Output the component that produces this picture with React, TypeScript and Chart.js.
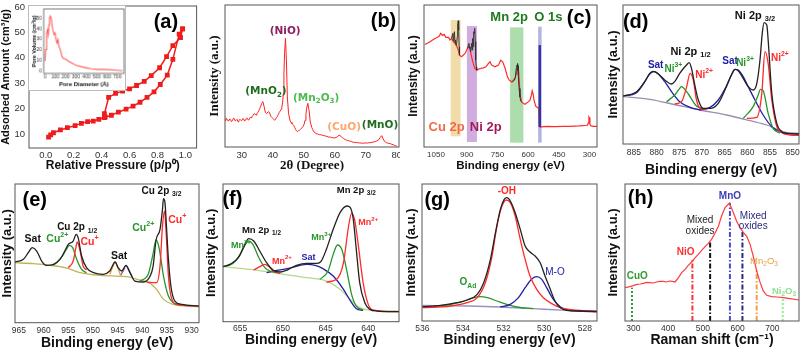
import { useEffect, useRef } from "react";
import { Chart, registerables } from "chart.js";

Chart.register(...registerables);

const SANS = '"Liberation Sans", Arial, Helvetica, sans-serif';
const SERIF = '"Liberation Serif", "Times New Roman", serif';
const DJV = '"DejaVu Sans", Verdana, sans-serif';

// ---------- (a) N2 isotherm ----------
const adsP = [0.02, 0.035, 0.055, 0.105, 0.155, 0.21, 0.255, 0.3, 0.34, 0.38, 0.42, 0.47, 0.52, 0.575, 0.625, 0.675, 0.725, 0.775, 0.82, 0.87, 0.91, 0.955, 0.98];
const adsV = [8.8, 9.7, 10.5, 11.6, 12.5, 13.3, 14.2, 14.9, 15.1, 15.8, 16.5, 17.4, 18.6, 19.8, 21.0, 22.5, 24.4, 26.6, 29.5, 33.2, 39.4, 49.3, 51.4];
const desP = [0.98, 0.965, 0.91, 0.865, 0.815, 0.755, 0.705, 0.65, 0.6, 0.55, 0.5, 0.45, 0.42, 0.425];
const desV = [51.4, 48.0, 44.8, 40.5, 36.1, 33.0, 30.7, 29.1, 27.8, 26.9, 26.0, 24.4, 18.0, 16.7];
const aXTicks = [0, 0.2, 0.4, 0.6, 0.8, 1.0];
const aYTicks = [10, 20, 30, 40, 50, 60];
// inset: pore size distribution
const poreD = [0, 7, 16, 25, 32, 38, 44, 51, 60, 70, 79, 88, 98, 107, 117, 126, 135, 148, 164, 180, 195, 227, 258, 305, 369, 448, 511, 574, 668, 750];
const poreV = [9.4, 20.3, 35.9, 39, 34.4, 43.6, 50, 52, 50, 42, 37.5, 34.4, 35.9, 29.7, 26.6, 29.7, 23.4, 20.3, 14, 11.6, 11.6, 9.4, 7.8, 5.3, 3.7, 2.2, 1.6, 1.6, 1.0, 0.3];
const poreXTicks = [0, 100, 200, 300, 400, 500, 600, 700];
const poreYTicks = [0, 10, 20, 30, 40, 50];

// ---------- (b) XRD ----------
const xrdAngle = [24.6, 24.9, 25.2, 25.5, 25.8, 26.1, 26.4, 26.7, 27.0, 27.3, 27.6, 27.9, 28.2, 28.5, 28.8, 29.1, 29.4, 29.7, 30.0, 30.3, 30.6, 30.9, 31.2, 31.5, 31.8, 32.1, 32.4, 32.7, 33.0, 33.3, 33.6, 33.9, 34.2, 34.6, 34.9, 35.2, 35.5, 35.8, 36.1, 36.4, 36.8, 37.2, 37.6, 38.0, 38.5, 38.9, 39.4, 39.7, 40.0, 40.3, 40.6, 40.9, 41.2, 41.5, 41.8, 42.1, 42.4, 42.7, 42.9, 43.2, 43.4, 43.6, 43.8, 44.1, 44.4, 44.7, 45.1, 45.6, 45.9, 46.2, 46.5, 46.8, 47.1, 47.4, 47.7, 48.0, 48.3, 48.6, 48.9, 49.2, 49.5, 49.8, 50.1, 50.4, 50.7, 50.9, 51.3, 51.7, 52.1, 52.6, 52.9, 53.2, 53.6, 54.0, 54.5, 55.0, 55.5, 56.0, 56.5, 57.0, 57.5, 58.0, 58.5, 59.0, 59.5, 60.0, 60.4, 60.8, 61.4, 62.0, 62.4, 62.8, 63.4, 64.0, 64.5, 65.0, 65.5, 66.0, 66.5, 67.0, 67.5, 68.0, 68.5, 69.0, 69.5, 70.0, 70.5, 71.0, 71.5, 72.0, 72.5, 73.0, 73.5, 74.0, 74.6, 75.1, 75.6, 76.0, 76.4, 76.9, 77.4, 77.9, 78.4, 78.8, 79.2, 79.6, 80.0];
const xrdInt = [80, 86, 84, 79, 78, 84, 82, 76, 79, 86, 85, 78, 80, 83, 76, 79, 83, 80, 79, 85, 84, 78, 80, 86, 86, 81, 82, 89, 88, 91, 94, 99, 100, 96, 101, 104, 109, 115, 122, 130, 136, 122, 104, 100, 106, 104, 92, 89, 86, 83, 80, 84, 88, 92, 98, 104, 108, 113, 118, 135, 160, 220, 280, 326, 260, 150, 100, 78, 74, 70, 67, 64, 58, 52, 48, 46, 49, 50, 53, 56, 58, 62, 68, 80, 98, 115, 131, 110, 75, 58, 52, 46, 43, 40, 39, 37, 37, 35, 34, 33, 32, 30, 30, 28, 28, 27, 29, 30, 36, 32, 28, 26, 22, 20, 19, 17, 16, 14, 14, 13, 13, 12, 12, 11, 12, 12, 12, 13, 13, 14, 15, 16, 18, 20, 28, 34, 24, 18, 14, 12, 11, 10, 8, 7, 5, 4, 2];
const bXTicks = [30, 40, 50, 60, 70, 80];

// ---------- (c) XPS survey ----------
const svE = [1104, 1079, 1063, 1047, 1034, 1027, 1018, 1010, 1002, 988, 982, 974, 965, 957, 949, 941, 936, 925, 908, 900, 892, 884, 876, 868, 860, 851, 835, 819, 806, 794, 786, 778, 762, 745, 734, 724, 712, 701, 692, 680, 664, 656, 651, 646, 640, 632, 623, 615, 607, 599, 591, 584, 580, 576, 571, 563, 558, 553, 548, 545, 542, 534, 510, 470, 430, 400, 350, 310, 306, 303, 301, 298, 293, 280, 264];
const svI = [307, 315, 322, 327, 332, 340, 334, 337, 328, 328, 320, 325, 315, 310, 302, 290, 275, 270, 280, 290, 300, 295, 270, 250, 235, 230, 235, 237, 240, 250, 255, 245, 240, 245, 260, 255, 235, 210, 200, 195, 205, 225, 240, 225, 160, 135, 130, 128, 132, 135, 140, 155, 168, 160, 140, 122, 120, 118, 115, 62, 60, 60, 62, 61, 62, 62, 63, 65, 72, 90, 88, 68, 63, 62, 62];
const cuHrE = [974, 970, 968, 966, 963, 960, 957, 955, 952, 949, 946, 944, 941, 939, 937, 935];
const cuHrI = [325, 335, 340, 318, 335, 345, 312, 320, 305, 310, 330, 370, 378, 350, 300, 275];
const niHrE = [895, 892, 889, 887, 884, 881, 878, 876, 873, 871, 868, 866, 863, 861, 858, 856, 853, 851];
const niHrI = [295, 305, 310, 300, 295, 285, 300, 310, 290, 325, 300, 345, 340, 355, 315, 260, 240, 230];
const mnHrE = [676, 667, 662, 658, 655, 654, 652, 651, 649, 648, 644, 640, 636, 632];
const mnHrI = [195, 200, 210, 235, 245, 240, 230, 250, 243, 215, 175, 150, 138, 135];
const o1sE = [543, 543];
const o1sI = [60, 305];
const bandFrom = [978, 899, 688, 551];
const bandTo = [930, 850, 623, 534];
const bandLow = [32, 15, 13, 13];
const bandHigh = [380, 362, 358, 360];
const cXTicks = [1050, 900, 750, 600, 450, 300];

// ---------- (d) Ni 2p ----------
const niEnvE = [887.5, 884.4, 882.6, 881.5, 880.7, 879.6, 878.2, 876.7, 876.0, 874.9, 873.4, 872.8, 872.3, 871.5, 870.8, 869.7, 868.2, 866.4, 864.6, 863.5, 862.7, 862.0, 860.9, 859.8, 858.7, 857.9, 857.2, 856.7, 856.3, 855.7, 855.4, 854.6, 853.5, 852.4, 851.3, 848.6];
const niEnvI = [144, 157, 187, 212, 218, 210, 192, 180, 187, 212, 237, 244, 227, 172, 132, 107, 107, 122, 172, 207, 224, 220, 197, 172, 162, 182, 252, 332, 364, 357, 312, 152, 62, 37, 32, 30];
const niSat1E = [887.5, 884.4, 882.6, 881.5, 880.6, 879.6, 878.2, 876.7, 874.9, 872.6, 870.4];
const niSat1I = [144, 154, 187, 210, 217, 210, 187, 157, 127, 110, 102];
const niSat2E = [870.4, 868.2, 866.4, 864.6, 863.5, 862.7, 862.0, 860.9, 859.8, 858.3, 856.5, 854.6, 852.8, 851.3, 848.6];
const niSat2I = [102, 110, 132, 174, 207, 224, 222, 202, 172, 132, 87, 52, 37, 32, 30];
const ni3aE = [877.8, 876.0, 874.9, 874.5, 874.1, 873.0, 871.2, 869.7];
const ni3aI = [127, 147, 167, 172, 169, 150, 114, 107];
const ni3bE = [860.9, 858.7, 857.6, 857.1, 856.5, 855.4, 854.3, 852.8];
const ni3bI = [77, 112, 147, 164, 160, 92, 47, 32];
const ni2aE = [876.0, 874.5, 873.4, 872.6, 871.9, 871.2, 870.4, 869.0];
const ni2aI = [120, 127, 170, 212, 192, 132, 107, 104];
const ni2bE = [860.1, 857.9, 856.8, 856.1, 855.4, 854.6, 853.5, 852.4, 850.6, 848.6];
const ni2bI = [77, 80, 152, 277, 242, 132, 52, 34, 27, 26];
const niBgE = [887.5, 881.5, 875.6, 870.4, 864.6, 859.4, 855.7, 852.8, 851.3, 848.6];
const niBgI = [142, 134, 117, 102, 87, 70, 57, 40, 34, 32];
const dXTicks = [885, 880, 875, 870, 865, 860, 855, 850];

// ---------- (e) Cu 2p ----------
const cuEnvE = [965.8, 964.1, 963.1, 962.3, 961.4, 960.4, 959.4, 958.0, 956.7, 955.7, 955.0, 954.0, 953.4, 953.0, 952.3, 951.3, 949.9, 947.9, 946.6, 945.5, 944.9, 944.2, 943.3, 942.5, 941.5, 939.8, 938.4, 937.8, 937.2, 936.4, 935.9, 935.7, 935.4, 935.1, 934.7, 934.2, 933.4, 932.0, 928.5];
const cuEnvI = [182, 190, 210, 225, 215, 185, 172, 175, 190, 215, 235, 245, 265, 255, 200, 165, 150, 145, 155, 182, 165, 155, 172, 150, 125, 122, 140, 170, 248, 280, 340, 372, 360, 290, 190, 110, 65, 55, 50];
const cu2aE = [958.0, 956.4, 955.3, 954.8, 954.1, 953.3, 952.3, 951.3];
const cu2aI = [172, 195, 222, 232, 225, 190, 160, 150];
const cu2bE = [940.5, 938.8, 937.9, 937.2, 936.6, 935.7, 934.7, 933.7, 932.0];
const cu2bI = [125, 145, 200, 248, 225, 140, 80, 60, 52];
const cu1aE = [955.0, 954.0, 953.4, 953.2, 952.6, 952.0, 951.3];
const cu1aI = [165, 185, 230, 242, 215, 170, 158];
const cu1bE = [939.1, 937.1, 936.4, 935.9, 935.5, 935.2, 934.7, 934.1, 933.0, 928.5];
const cu1bI = [122, 120, 170, 290, 335, 280, 140, 75, 55, 50];
const cuSatAE = [946.6, 945.9, 945.5, 945.1, 944.4];
const cuSatAI = [145, 170, 182, 170, 142];
const cuSatBE = [944.4, 943.7, 943.3, 942.8, 942.0];
const cuSatBI = [142, 160, 172, 160, 138];
const cuBgE = [965.8, 962.1, 958.7, 955.3, 952.6, 948.6, 943.2, 940.5, 938.4, 937.1, 935.7, 933.7, 931.0, 928.5];
const cuBgI = [180, 177, 172, 164, 150, 142, 138, 128, 118, 100, 70, 55, 50, 48];
const eXTicks = [965, 960, 955, 950, 945, 940, 935, 930];

// ---------- (f) Mn 2p ----------
const mnEnvE = [657.0, 656.2, 655.2, 654.6, 654.0, 653.4, 652.7, 651.9, 651.1, 650.3, 649.5, 648.4, 647.2, 646.0, 645.5, 644.9, 644.1, 643.3, 642.5, 642.1, 641.75, 641.4, 641.0, 640.4, 639.8, 639.0, 636.4];
const mnEnvI = [165, 172, 192, 222, 249, 242, 212, 177, 154, 149, 155, 169, 175, 175, 182, 217, 277, 327, 347, 342, 307, 217, 117, 57, 37, 32, 30];
const mn3aE = [657.0, 655.8, 655.0, 654.4, 654.0, 653.5, 652.9, 652.1, 651.5, 650.7];
const mn3aI = [165, 175, 202, 232, 242, 232, 197, 162, 152, 147];
const mn3bE = [645.65, 644.7, 644.1, 643.6, 643.1, 642.5, 641.95, 641.4, 640.6];
const mn3bI = [127, 152, 202, 230, 217, 152, 82, 47, 35];
const mn2aE = [653.4, 652.7, 652.1, 651.7, 651.1, 650.3];
const mn2aI = [155, 165, 172, 167, 152, 144];
const mn2bE = [644.9, 643.7, 642.9, 642.3, 641.95, 641.6, 641.2, 640.6, 640.0, 639.4, 636.4];
const mn2bI = [119, 127, 177, 287, 325, 307, 237, 117, 52, 35, 30];
const mnSatE = [651.9, 650.7, 649.5, 648.0, 647.2, 646.2, 645.3, 644.1, 642.9, 641.95, 641.4, 640.6];
const mnSatI = [147, 154, 159, 169, 172, 169, 159, 137, 97, 57, 39, 34];
const mnBgE = [657.0, 653.8, 649.9, 647.2, 644.9, 643.3, 642.1, 641.0, 639.4, 636.4];
const mnBgI = [165, 157, 142, 132, 122, 97, 67, 42, 34, 32];
const fXTicks = [655, 650, 645, 640];

// ---------- (g) O 1s ----------
const oEnvE = [536.0, 535.1, 534.3, 533.8, 533.3, 532.98, 532.65, 532.4, 532.16, 531.97, 531.84, 531.67, 531.43, 531.18, 530.94, 530.7, 530.45, 530.2, 529.96, 529.7, 529.47, 529.2, 528.9, 528.24, 527.4];
const oEnvI = [43, 47, 55, 63, 80, 115, 185, 265, 335, 365, 370, 360, 325, 275, 225, 207, 195, 175, 135, 95, 60, 40, 32, 30, 28];
const ohE = [536.0, 534.6, 533.8, 533.3, 532.9, 532.57, 532.33, 532.08, 531.87, 531.67, 531.43, 531.18, 530.94, 530.7, 530.37, 530.04, 529.63, 529.2, 528.57, 527.4];
const ohI = [40, 45, 55, 70, 115, 195, 285, 345, 363, 355, 315, 245, 185, 135, 95, 70, 52, 40, 33, 30];
const oAdE = [535.43, 534.6, 533.96, 533.47, 533.14, 532.8, 532.33, 531.84, 531.35, 530.53];
const oAdI = [45, 50, 60, 70, 73, 70, 60, 50, 42, 37];
const moE = [532.16, 531.67, 531.27, 530.94, 530.6, 530.37, 530.12, 529.88, 529.55, 529.2, 528.73, 527.4];
const moI = [42, 50, 70, 100, 127, 133, 125, 100, 65, 42, 32, 28];
const oBgE = [536.0, 533.8, 532.16, 530.53, 528.9, 527.4];
const oBgI = [47, 45, 42, 37, 32, 28];
const gXTicks = [536, 534, 532, 530, 528];

// ---------- (h) Raman ----------
const ramanShift = [276, 290, 300, 310, 320, 329, 338, 348, 357, 367, 376, 386, 395, 405, 412, 420, 430, 439, 449, 458, 468, 478, 487, 501, 516, 525, 535, 545, 554, 564, 576, 580, 588, 597, 607, 617, 626, 636, 645, 655, 665, 674, 684, 698, 713, 732, 751, 777];
const ramanInt = [100, 103, 106, 110, 111, 113, 116, 115, 114, 117, 119, 119, 117, 120, 119, 117, 130, 145, 155, 167, 177, 190, 200, 217, 233, 245, 263, 285, 315, 340, 353, 345, 325, 300, 280, 265, 255, 230, 195, 150, 115, 90, 77, 73, 72, 70, 67, 63];
const ramanLinePos = [296, 470, 521, 578, 614, 655, 730];
const ramanLineTop = [100, 185, 240, 355, 270, 153, 70];
const hXTicks = [300, 400, 500, 600, 700];

type Series = { x: number[]; y: number[]; color: string; width?: number; dash?: number[]; marker?: boolean; smooth?: boolean };
type Note = { t: string; x: number; y: number; c: string; s: number; w?: string; f?: string };
type Band = { from: number; to: number; lo: number; hi: number; color: string };
type Panel = {
  x0: number; y0: number; w: number; h: number;
  l: number; t: number; r: number; b: number;
  xMin: number; xMax: number; yMin: number; yMax: number; reverse?: boolean;
  xTicks: number[]; yTicks?: number[]; fmt?: (v: number) => string;
  tickSize: number; xTickY: number; yTickR?: number;
  xTitle: string; yTitle: string; xTitleSize: number; yTitleSize: number; titleFamily?: string;
  xTitleY: number; yTitleX: number;
  series: Series[]; notes: Note[]; bands?: Band[]; frame: string; bg?: string;
};

const S = (x: number[], y: number[], color: string, extra: Partial<Series> = {}): Series => ({ x, y, color, ...extra });

function parseRich(str: string) {
  const out: { t: string; m: number }[] = [];
  const re = /([_^])\{([^}]*)\}/g;
  let last = 0;
  let mm: RegExpExecArray | null;
  while ((mm = re.exec(str))) {
    if (mm.index > last) out.push({ t: str.slice(last, mm.index), m: 0 });
    out.push({ t: mm[2], m: mm[1] === "_" ? 1 : 2 });
    last = re.lastIndex;
  }
  if (last < str.length) out.push({ t: str.slice(last), m: 0 });
  return out;
}

function drawRich(ctx: CanvasRenderingContext2D, n: Note, px: number, py: number) {
  const segs = parseRich(n.t);
  const fam = n.f || SANS;
  const wt = n.w || "bold";
  const fontFor = (m: number) => `${wt} ${m ? n.s * 0.68 : n.s}px ${fam}`;
  let total = 0;
  const widths = segs.map((sg) => {
    ctx.font = fontFor(sg.m);
    const ww = ctx.measureText(sg.t).width;
    total += ww;
    return ww;
  });
  let x = px - total / 2;
  ctx.fillStyle = n.c;
  ctx.textBaseline = "middle";
  ctx.textAlign = "left";
  segs.forEach((sg, i) => {
    ctx.font = fontFor(sg.m);
    const dy = sg.m === 1 ? n.s * 0.3 : sg.m === 2 ? -n.s * 0.38 : 0;
    ctx.fillText(sg.t, x, py + dy);
    x += widths[i];
  });
}

function makeChart(cv: HTMLCanvasElement, p: Panel) {
  const fam = p.titleFamily || SANS;
  const xAxisH = p.y0 + p.h - p.b;
  const yAxisW = p.l - p.x0;
  const xTitlePad = p.y0 + p.h - p.xTitleY - (p.xTitleSize * 1.2) / 2;
  const yTitlePad = p.yTitleX - p.x0 - (p.yTitleSize * 1.2) / 2;
  const xTickPad = p.xTickY - p.b - (p.tickSize * 1.2) / 2;
  const deco = {
    id: "deco",
    beforeDraw(chart: any) {
      if (!p.bg) return;
      const c = chart.ctx;
      c.save();
      c.fillStyle = p.bg;
      c.fillRect(0, 0, chart.width, chart.height);
      c.restore();
    },
    beforeDatasetsDraw(chart: any) {
      if (!p.bands) return;
      const c = chart.ctx;
      const xs = chart.scales.x;
      const ys = chart.scales.y;
      c.save();
      p.bands.forEach((bd) => {
        const a = xs.getPixelForValue(bd.from);
        const z = xs.getPixelForValue(bd.to);
        const top = ys.getPixelForValue(bd.hi);
        const bot = ys.getPixelForValue(bd.lo);
        c.fillStyle = bd.color;
        c.fillRect(Math.min(a, z), top, Math.abs(z - a), bot - top);
      });
      c.restore();
    },
    afterDatasetsDraw(chart: any) {
      const c = chart.ctx;
      const ca = chart.chartArea;
      c.save();
      c.strokeStyle = p.frame;
      c.lineWidth = 1;
      c.strokeRect(ca.left, ca.top, ca.right - ca.left, ca.bottom - ca.top);
      const xs = chart.scales.x;
      const ys = chart.scales.y;
      p.notes.forEach((n) => drawRich(c, n, xs.getPixelForValue(n.x), ys.getPixelForValue(n.y)));
      c.restore();
    },
  };
  return new Chart(cv, {
    type: "line",
    data: {
      datasets: p.series.map((s) => ({
        data: s.x.map((v, i) => ({ x: v, y: s.y[i] })),
        borderColor: s.color,
        backgroundColor: s.color,
        borderWidth: s.width ?? 1.3,
        borderDash: s.dash || [],
        pointRadius: s.marker ? 3.4 : 0,
        pointHoverRadius: 0,
        pointStyle: "rect",
        pointBorderWidth: 0,
        tension: 0,
        cubicInterpolationMode: s.smooth ? "monotone" : "default",
        fill: false,
      })),
    },
    options: {
      responsive: false,
      animation: false,
      devicePixelRatio: 1,
      events: [],
      layout: { padding: { left: 0, top: p.t - p.y0, right: p.x0 + p.w - p.r, bottom: 0 } },
      plugins: { legend: { display: false }, tooltip: { enabled: false }, title: { display: false } },
      scales: {
        x: {
          type: "linear",
          min: p.xMin,
          max: p.xMax,
          reverse: !!p.reverse,
          grid: { display: false, drawTicks: false, tickLength: 0 },
          border: { display: false },
          ticks: {
            font: { size: p.tickSize, family: SANS },
            color: "#333",
            padding: xTickPad,
            maxRotation: 0,
            autoSkip: false,
            callback: (v: any) => (p.fmt ? p.fmt(+v) : String(v)),
          },
          title: {
            display: true,
            text: p.xTitle,
            color: "#111",
            font: { size: p.xTitleSize, weight: "bold", family: fam },
            padding: { top: 0, bottom: xTitlePad },
          },
          afterBuildTicks: (sc: any) => {
            sc.ticks = p.xTicks.map((v) => ({ value: v }));
          },
          afterFit: (sc: any) => {
            sc.height = xAxisH;
            sc.paddingLeft = 0;
            sc.paddingRight = 0;
          },
        },
        y: {
          type: "linear",
          min: p.yMin,
          max: p.yMax,
          grid: { display: false, drawTicks: false, tickLength: 0 },
          border: { display: false },
          ticks: {
            display: !!p.yTicks,
            font: { size: p.tickSize, family: SANS },
            color: "#333",
            padding: p.yTickR !== undefined ? p.l - p.yTickR : 0,
            autoSkip: false,
          },
          title: {
            display: true,
            text: p.yTitle,
            color: "#111",
            font: { size: p.yTitleSize, weight: "bold", family: fam },
            padding: { top: yTitlePad, bottom: 0 },
          },
          afterBuildTicks: (sc: any) => {
            if (p.yTicks) sc.ticks = p.yTicks.map((v) => ({ value: v }));
          },
          afterFit: (sc: any) => {
            sc.width = yAxisW;
            sc.paddingTop = 0;
            sc.paddingBottom = 0;
          },
        },
      },
    } as any,
    plugins: [deco as any],
  });
}

const RED = "#ff2a2a";
const GREEN = "#27962b";
const BLUE = "#2020a6";
const BLACK = "#222";
const ramanLineColors = ["#2e9e2e", "#ff3030", "#111", "#4a4ad0", "#2a2a80", "#f0a040", "#90ee90"];

const panels: Panel[] = [
  {
    x0: -6, y0: 0, w: 206, h: 182, l: 29, t: 6, r: 199, b: 148,
    xMin: -0.12, xMax: 1.08, yMin: 4.5, yMax: 60.4,
    xTicks: aXTicks, yTicks: aYTicks, fmt: (v) => v.toFixed(1),
    tickSize: 9.5, xTickY: 155, yTickR: 25,
    xTitle: "Relative Pressure (p/p⁰)", yTitle: "Adsorbed Amount (cm³/g)", xTitleSize: 12, yTitleSize: 11,
    xTitleY: 166, yTitleX: 6,
    series: [
      S(adsP, adsV, "#f01c1c", { marker: true, width: 1.5 }),
      S(desP, desV, "#f01c1c", { marker: true, width: 1.5 }),
    ],
    notes: [{ t: "(a)", x: 0.86, y: 53.8, c: "#000", s: 20 }],
    frame: "#555",
  },
  {
    x0: 194, y0: 0, w: 206, h: 182, l: 225, t: 5, r: 399, b: 147,
    xMin: 24.6, xMax: 80.7, yMin: 0, yMax: 426,
    xTicks: bXTicks, tickSize: 9.5, xTickY: 155,
    xTitle: "2θ (Degree)", yTitle: "Intensity (a.u.)", xTitleSize: 13, yTitleSize: 13, titleFamily: SERIF,
    xTitleY: 166, yTitleX: 215,
    series: [S(xrdAngle, xrdInt, "#ff2020", { width: 1 })],
    notes: [
      { t: "(b)", x: 75.7, y: 376, c: "#000", s: 20 },
      { t: "(NiO)", x: 44.0, y: 346, c: "#8e2060", s: 10.5, f: DJV },
      { t: "(MnO_{2})", x: 37.8, y: 166, c: "#1f6e1f", s: 10.5, f: DJV },
      { t: "(Mn_{2}O_{3})", x: 54.0, y: 146, c: "#4dbb4d", s: 10.5, f: DJV },
      { t: "(CuO)", x: 63.0, y: 59, c: "#ffa66e", s: 10.5, f: DJV },
      { t: "(MnO)", x: 74.6, y: 66, c: "#1f6e1f", s: 10.5, f: DJV },
    ],
    frame: "#555",
  },
  {
    x0: 394, y0: 0, w: 206, h: 182, l: 424, t: 5, r: 597, b: 147,
    xMin: 263.5, xMax: 1108.6, yMin: 0, yMax: 425, reverse: true,
    xTicks: cXTicks, tickSize: 8, xTickY: 155,
    xTitle: "Binding energy (eV)", yTitle: "Intensity (a.u.)", xTitleSize: 11.5, yTitleSize: 12,
    xTitleY: 166, yTitleX: 414,
    bands: bandFrom.map((f, i) => ({
      from: f, to: bandTo[i], lo: bandLow[i], hi: bandHigh[i],
      color: ["rgba(232,196,110,0.6)", "rgba(178,116,200,0.6)", "rgba(118,196,118,0.6)", "rgba(138,138,214,0.65)"][i],
    })),
    series: [
      S(cuHrE, cuHrI, "#333", { width: 1 }),
      S(niHrE, niHrI, "#333", { width: 1 }),
      S(mnHrE, mnHrI, "#333", { width: 1 }),
      S(o1sE, o1sI, "#3535a0", { width: 2.5 }),
      S(svE, svI, "#ff2a2a", { width: 1.2 }),
    ],
    notes: [
      { t: "Mn 2p", x: 693, y: 388, c: "#1e7a1e", s: 13 },
      { t: "O 1s", x: 501, y: 388, c: "#1e7a1e", s: 13 },
      { t: "(c)", x: 351, y: 385, c: "#000", s: 20 },
      { t: "Cu 2p", x: 998, y: 60, c: "#f06a4a", s: 13 },
      { t: "Ni 2p", x: 807, y: 60, c: "#a21c5c", s: 13 },
    ],
    frame: "#555",
  },
  {
    x0: 594, y0: 0, w: 206, h: 182, l: 623, t: 5, r: 799, b: 144,
    xMin: 848.6, xMax: 887.4, yMin: 0, yMax: 417, reverse: true,
    xTicks: dXTicks, tickSize: 8.5, xTickY: 153,
    xTitle: "Binding energy (eV)", yTitle: "Intensity (a.u.)", xTitleSize: 14, yTitleSize: 13,
    xTitleY: 170, yTitleX: 613,
    series: [
      S(niEnvE, niEnvI, BLACK, { smooth: true }),
      S(ni2aE, ni2aI, RED, { smooth: true }),
      S(ni2bE, ni2bI, RED, { smooth: true }),
      S(ni3aE, ni3aI, GREEN, { smooth: true }),
      S(ni3bE, ni3bI, GREEN, { smooth: true }),
      S(niSat1E, niSat1I, BLUE, { smooth: true }),
      S(niSat2E, niSat2I, BLUE, { smooth: true }),
      S(niBgE, niBgI, "#9a8fb0", { smooth: true }),
    ],
    notes: [
      { t: "(d)", x: 884.6, y: 365, c: "#000", s: 20 },
      { t: "Ni 2p _{3/2}", x: 858.3, y: 384, c: "#111", s: 11 },
      { t: "Ni 2p _{1/2}", x: 872.5, y: 277, c: "#111", s: 11 },
      { t: "Sat", x: 880.2, y: 237, c: BLUE, s: 10 },
      { t: "Ni^{3+}", x: 876.3, y: 224, c: GREEN, s: 10 },
      { t: "Ni^{2+}", x: 869.5, y: 207, c: RED, s: 10 },
      { t: "Sat", x: 863.8, y: 247, c: BLUE, s: 10 },
      { t: "Ni^{3+}", x: 860.5, y: 242, c: GREEN, s: 10 },
      { t: "Ni^{2+}", x: 852.8, y: 257, c: RED, s: 10 },
    ],
    frame: "#555",
  },
  {
    x0: -6, y0: 176, w: 206, h: 176, l: 15, t: 184, r: 199, b: 322.7,
    xMin: 928.5, xMax: 965.8, yMin: 0, yMax: 416, reverse: true,
    xTicks: eXTicks, tickSize: 8.5, xTickY: 331,
    xTitle: "Binding energy (eV)", yTitle: "Intensity (a.u.)", xTitleSize: 14, yTitleSize: 13,
    xTitleY: 342.7, yTitleX: 7.3,
    series: [
      S(cuEnvE, cuEnvI, BLACK, { smooth: true }),
      S(cu1aE, cu1aI, RED, { smooth: true }),
      S(cu1bE, cu1bI, RED, { smooth: true }),
      S(cu2aE, cu2aI, GREEN, { smooth: true }),
      S(cu2bE, cu2bI, GREEN, { smooth: true }),
      S(cuSatAE, cuSatAI, "#e89a3a", { smooth: true }),
      S(cuSatBE, cuSatBI, "#8a5aa8", { smooth: true }),
      S(cuBgE, cuBgI, "#c2b25a", { smooth: true }),
    ],
    notes: [
      { t: "(e)", x: 961.8, y: 368, c: "#000", s: 20 },
      { t: "Cu 2p _{3/2}", x: 936.1, y: 395, c: "#111", s: 10 },
      { t: "Cu 2p _{1/2}", x: 953.2, y: 285, c: "#111", s: 10 },
      { t: "Sat", x: 962.2, y: 250, c: "#111", s: 10.5 },
      { t: "Cu^{2+}", x: 957.2, y: 250, c: GREEN, s: 10.5 },
      { t: "Cu^{+}", x: 950.7, y: 243, c: RED, s: 10.5 },
      { t: "Sat", x: 944.7, y: 200, c: "#111", s: 10.5 },
      { t: "Cu^{2+}", x: 939.8, y: 285, c: GREEN, s: 10.5 },
      { t: "Cu^{+}", x: 932.9, y: 308, c: RED, s: 10.5 },
    ],
    frame: "#555",
  },
  {
    x0: 194, y0: 176, w: 206, h: 176, l: 223, t: 184, r: 399, b: 321.7,
    xMin: 636.4, xMax: 657.0, yMin: 0, yMax: 413, reverse: true,
    xTicks: fXTicks, tickSize: 8.5, xTickY: 329,
    xTitle: "Binding energy (eV)", yTitle: "Intensity (a.u.)", xTitleSize: 14, yTitleSize: 13,
    xTitleY: 340, yTitleX: 211.7,
    series: [
      S(mnEnvE, mnEnvI, BLACK, { smooth: true }),
      S(mn2aE, mn2aI, RED, { smooth: true }),
      S(mn2bE, mn2bI, RED, { smooth: true }),
      S(mn3aE, mn3aI, GREEN, { smooth: true }),
      S(mn3bE, mn3bI, GREEN, { smooth: true }),
      S(mnSatE, mnSatI, BLUE, { smooth: true }),
      S(mnBgE, mnBgI, "#b5d98a", { smooth: true }),
    ],
    notes: [
      { t: "(f)", x: 655.9, y: 367, c: "#000", s: 20 },
      { t: "Mn 2p _{3/2}", x: 641.4, y: 395, c: "#111", s: 9.5 },
      { t: "Mn 2p _{1/2}", x: 652.5, y: 275, c: "#111", s: 9.5 },
      { t: "Mn^{3+}", x: 654.9, y: 227, c: GREEN, s: 9 },
      { t: "Mn^{2+}", x: 650.1, y: 182, c: RED, s: 9 },
      { t: "Sat", x: 647.0, y: 192, c: BLUE, s: 9 },
      { t: "Mn^{3+}", x: 645.5, y: 252, c: GREEN, s: 9 },
      { t: "Mn^{2+}", x: 640.0, y: 297, c: RED, s: 9 },
    ],
    frame: "#555",
  },
  {
    x0: 394, y0: 176, w: 206, h: 176, l: 422, t: 184, r: 597, b: 321,
    xMin: 527.4, xMax: 536.02, yMin: 0, yMax: 411, reverse: true,
    xTicks: gXTicks, tickSize: 8.5, xTickY: 329,
    xTitle: "Binding energy (eV)", yTitle: "Intensity (a.u.)", xTitleSize: 14, yTitleSize: 13,
    xTitleY: 340, yTitleX: 411.7,
    series: [
      S(oEnvE, oEnvI, BLACK, { smooth: true }),
      S(ohE, ohI, RED, { smooth: true }),
      S(moE, moI, BLUE, { smooth: true }),
      S(oAdE, oAdI, GREEN, { smooth: true }),
      S(oBgE, oBgI, "#9a90c0", { smooth: true }),
    ],
    notes: [
      { t: "(g)", x: 535.27, y: 363, c: "#000", s: 20 },
      { t: "-OH", x: 531.84, y: 390, c: RED, s: 10 },
      { t: "M-O", x: 529.47, y: 145, c: BLUE, s: 10, w: "normal" },
      { t: "O_{Ad}", x: 533.76, y: 115, c: GREEN, s: 10 },
    ],
    frame: "#555",
  },
  {
    x0: 594, y0: 176, w: 206, h: 176, l: 625, t: 184, r: 799, b: 321,
    xMin: 276, xMax: 776.8, yMin: 0, yMax: 411,
    xTicks: hXTicks, tickSize: 8.5, xTickY: 329,
    xTitle: "Raman shift (cm⁻¹)", yTitle: "Intensity (a.u.)", xTitleSize: 14, yTitleSize: 13,
    xTitleY: 340, yTitleX: 613,
    series: [
      S(ramanShift, ramanInt, "#ff3b3b", { width: 1.2 }),
      ...ramanLinePos.map((x, i) =>
        S([x, x], [0, ramanLineTop[i]], ramanLineColors[i], { width: 2, dash: i === 0 || i === 6 ? [2, 2] : [5, 2, 1.5, 2] })
      ),
    ],
    notes: [
      { t: "(h)", x: 321, y: 368, c: "#000", s: 20 },
      { t: "MnO", x: 578, y: 375, c: "#3c3cb4", s: 10 },
      { t: "Mixed", x: 492, y: 302, c: "#222", s: 10, w: "normal" },
      { t: "oxides", x: 492, y: 270, c: "#222", s: 10, w: "normal" },
      { t: "Mixed", x: 645, y: 315, c: "#2a2a80", s: 10, w: "normal" },
      { t: "oxides", x: 645, y: 285, c: "#2a2a80", s: 10, w: "normal" },
      { t: "NiO", x: 450.6, y: 205, c: "#ff3030", s: 10 },
      { t: "Mn_{2}O_{3}", x: 676, y: 180, c: "#e8a040", s: 9.5, w: "normal" },
      { t: "Ni_{2}O_{3}", x: 733.6, y: 88, c: "#90e090", s: 9.5 },
      { t: "CuO", x: 311.5, y: 135, c: "#2e9e2e", s: 10 },
    ],
    frame: "#555",
  },
  {
    x0: 28, y0: 5, w: 98, h: 86, l: 43, t: 8, r: 125, b: 74,
    xMin: -12, xMax: 764, yMin: -2.2, yMax: 58.6,
    xTicks: poreXTicks, yTicks: poreYTicks, tickSize: 5, xTickY: 78, yTickR: 41,
    xTitle: "Pore Diameter (Å)", yTitle: "Pore Volume (cm³/g)", xTitleSize: 6, yTitleSize: 5.5,
    xTitleY: 85, yTitleX: 33,
    series: [S(poreD, poreV, "#ff5a5a", { width: 1.1 })],
    notes: [],
    frame: "#777",
    bg: "#fff",
  },
];

function PanelChart({ p }: { p: Panel }) {
  const ref = useRef<HTMLCanvasElement>(null);
  useEffect(() => {
    const ch = makeChart(ref.current as HTMLCanvasElement, p);
    return () => ch.destroy();
  }, [p]);
  return (
    <canvas
      ref={ref}
      width={p.w}
      height={p.h}
      style={{ position: "absolute", left: p.x0, top: p.y0, width: p.w, height: p.h, border: p.bg ? "1px solid #bbb" : undefined }}
    />
  );
}

export default function App() {
  return (
    <div style={{ position: "absolute", left: 0, top: 0, width: 800, height: 352, background: "#fff", overflow: "hidden" }}>
      {panels.map((p, i) => (
        <PanelChart key={i} p={p} />
      ))}
    </div>
  );
}
